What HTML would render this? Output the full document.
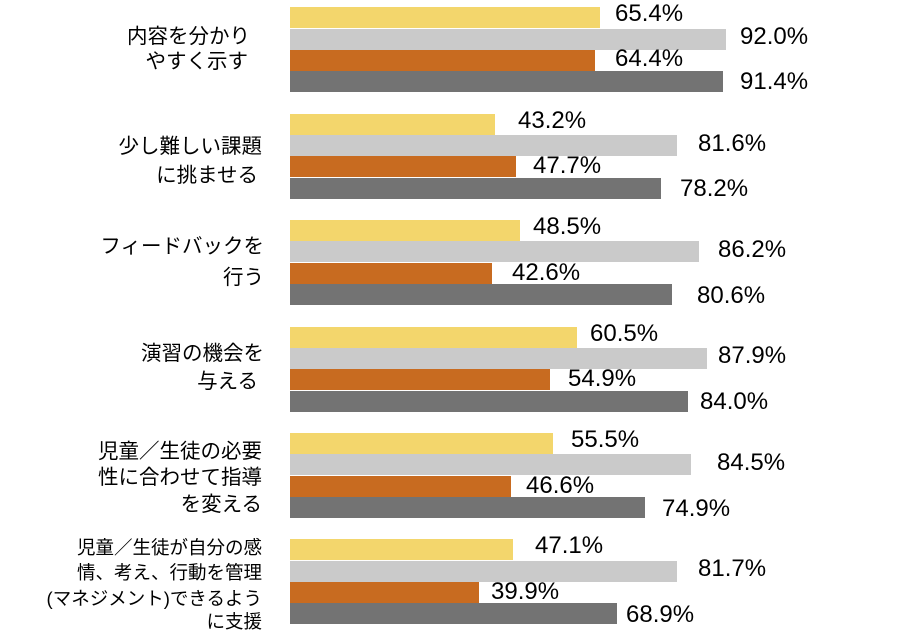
<!DOCTYPE html>
<html><head><meta charset="utf-8"><style>
body{margin:0;width:900px;height:635px;background:#fff;position:relative;overflow:hidden;font-family:"Liberation Sans","Noto Sans CJK JP",sans-serif;color:#000}
.b{position:absolute;left:290px;height:21px}
.y{background:#f3d66c}.g{background:#cacaca}.o{background:#c86b20}.d{background:#737373}
.v{position:absolute;font-size:24px;line-height:24px;margin-top:-3px}
.c{position:absolute;right:638px;font-size:20.5px;line-height:20px;white-space:nowrap;text-align:right;margin-top:-1px}
.s{font-size:18.5px;line-height:18px}
</style></head><body>
<div class="b y" style="top:7px;width:310px"></div>
<div class="b g" style="top:29px;width:436px"></div>
<div class="b o" style="top:50px;width:305px"></div>
<div class="b d" style="top:71px;width:433px"></div>
<div class="v" style="left:615px;top:5px">65.4%</div>
<div class="v" style="left:740px;top:28px">92.0%</div>
<div class="v" style="left:615px;top:50px">64.4%</div>
<div class="v" style="left:740px;top:73px">91.4%</div>

<div class="b y" style="top:114px;width:205px"></div>
<div class="b g" style="top:135px;width:387px"></div>
<div class="b o" style="top:156px;width:226px"></div>
<div class="b d" style="top:178px;width:371px"></div>
<div class="v" style="left:518px;top:112px">43.2%</div>
<div class="v" style="left:698px;top:135px">81.6%</div>
<div class="v" style="left:533px;top:157px">47.7%</div>
<div class="v" style="left:680px;top:180px">78.2%</div>

<div class="b y" style="top:220px;width:230px"></div>
<div class="b g" style="top:241px;width:409px"></div>
<div class="b o" style="top:263px;width:202px"></div>
<div class="b d" style="top:284px;width:382px"></div>
<div class="v" style="left:533px;top:218px">48.5%</div>
<div class="v" style="left:718px;top:241px">86.2%</div>
<div class="v" style="left:512px;top:264px">42.6%</div>
<div class="v" style="left:697px;top:287px">80.6%</div>

<div class="b y" style="top:327px;width:287px"></div>
<div class="b g" style="top:348px;width:417px"></div>
<div class="b o" style="top:369px;width:260px"></div>
<div class="b d" style="top:391px;width:398px"></div>
<div class="v" style="left:590px;top:325px">60.5%</div>
<div class="v" style="left:718px;top:347px">87.9%</div>
<div class="v" style="left:568px;top:370px">54.9%</div>
<div class="v" style="left:700px;top:393px">84.0%</div>

<div class="b y" style="top:433px;width:263px"></div>
<div class="b g" style="top:454px;width:401px"></div>
<div class="b o" style="top:476px;width:221px"></div>
<div class="b d" style="top:497px;width:355px"></div>
<div class="v" style="left:571px;top:431px">55.5%</div>
<div class="v" style="left:717px;top:454px">84.5%</div>
<div class="v" style="left:526px;top:477px">46.6%</div>
<div class="v" style="left:662px;top:500px">74.9%</div>

<div class="b y" style="top:539px;width:223px"></div>
<div class="b g" style="top:561px;width:387px"></div>
<div class="b o" style="top:582px;width:189px"></div>
<div class="b d" style="top:603px;width:327px"></div>
<div class="v" style="left:535px;top:537px">47.1%</div>
<div class="v" style="left:698px;top:560px">81.7%</div>
<div class="v" style="left:491px;top:583px">39.9%</div>
<div class="v" style="left:626px;top:606px">68.9%</div>

<div class="c" style="top:28px;right:650px">内容を分かり</div>
<div class="c" style="top:53px;right:652px">やすく示す</div>
<div class="c" style="top:138px">少し難しい課題</div>
<div class="c" style="top:167px;right:642px">に挑ませる</div>
<div class="c" style="top:238px;right:636px">フィードバックを</div>
<div class="c" style="top:269px;right:636px">行う</div>
<div class="c" style="top:345px;right:636px">演習の機会を</div>
<div class="c" style="top:373px;right:642px">与える</div>
<div class="c" style="top:443px">児童／生徒の必要</div>
<div class="c" style="top:469px">性に合わせて指導</div>
<div class="c" style="top:496px">を変える</div>
<div class="c s" style="top:540px">児童／生徒が自分の感</div>
<div class="c s" style="top:565px">情、考え、行動を管理</div>
<div class="c s" style="top:591px">(マネジメント)できるよう</div>
<div class="c s" style="top:614px">に支援</div>
</body></html>
